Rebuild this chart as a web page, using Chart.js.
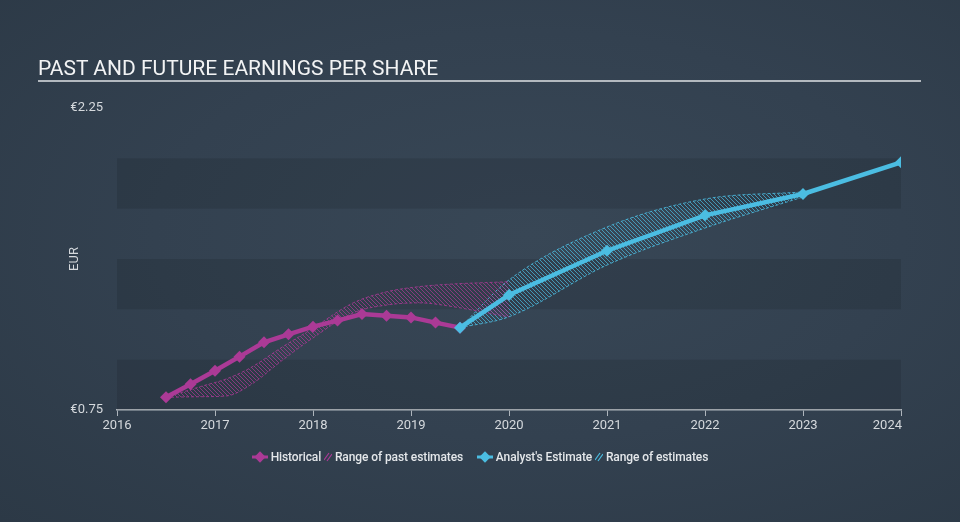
<!DOCTYPE html>
<html>
<head>
<meta charset="utf-8">
<script src="https://cdn.jsdelivr.net/npm/chart.js@4.4.0/dist/chart.umd.min.js"></script>
<style>
    html, body {
        margin: 0;
        padding: 0;
        width: 960px;
        height: 522px;
        overflow: hidden;
        font-family: Roboto, "Noto Sans", sans-serif;
        background: radial-gradient(ellipse at 55% 45%, #384756 0%, #334150 50%, #2c3946 100%);
    }
    #chart {
        position: absolute;
        left: 0;
        top: 0;
    }
    .title {
        position: absolute;
        left: 38px;
        top: 56px;
        font-size: 21px;
        color: #f2f3f4;
    }
    .title-rule {
        position: absolute;
        left: 38px;
        top: 80px;
        width: 883px;
        height: 2px;
        background: #b3b9bf;
    }
    .legend {
        position: absolute;
        top: 449px;
        left: 0;
        width: 960px;
        text-align: center;
        font-size: 12px;
        font-weight: 500;
        letter-spacing: -0.1px;
        color: #e4e7ea;
        white-space: nowrap;
    }
    .legend span {
        display: inline-block;
        vertical-align: middle;
    }
    .legend svg {
        vertical-align: middle;
    }
</style>
</head>
<body>
<canvas id="chart" width="960" height="522"></canvas>
<div class="title">PAST AND FUTURE EARNINGS PER SHARE</div>
<div class="title-rule"></div>
<div class="legend">
    <svg width="16" height="12"><line x1="0" y1="6" x2="16" y2="6" stroke="#ab3a96" stroke-width="3"/><rect x="4" y="2" width="8" height="8" fill="#ab3a96" transform="rotate(45 8 6)"/></svg>
    <span>Historical</span>
    <svg width="8" height="10"><line x1="0" y1="8" x2="5" y2="1" stroke="#ab3a96" stroke-width="1.2"/><line x1="3" y1="9" x2="8" y2="2" stroke="#ab3a96" stroke-width="1.2"/></svg>
    <span>Range of past estimates</span>
    <span style="width:8px"></span>
    <svg width="16" height="12"><line x1="0" y1="6" x2="16" y2="6" stroke="#4bbde2" stroke-width="3"/><rect x="4" y="2" width="8" height="8" fill="#4bbde2" transform="rotate(45 8 6)"/></svg>
    <span>Analyst's Estimate</span>
    <svg width="8" height="10"><line x1="0" y1="8" x2="5" y2="1" stroke="#4bbde2" stroke-width="1.2"/><line x1="3" y1="9" x2="8" y2="2" stroke="#4bbde2" stroke-width="1.2"/></svg>
    <span>Range of estimates</span>
</div>
<script>
// Historical EPS (quarterly, trailing)
const histDates = [2016.5, 2016.75, 2017.0, 2017.25, 2017.5, 2017.75, 2018.0, 2018.25, 2018.5, 2018.75, 2019.0, 2019.25, 2019.5];
const histEps = [0.813, 0.878, 0.945, 1.015, 1.086, 1.126, 1.164, 1.194, 1.227, 1.218, 1.210, 1.184, 1.159];

// Range of past estimates
const pastDates = [2016.5, 2016.85, 2017.12, 2017.36, 2017.69, 2017.97, 2018.41, 2018.76, 2019.09, 2019.43, 2019.78, 2020.0];
const pastHigh = [0.813, 0.866, 0.905, 0.959, 1.064, 1.147, 1.282, 1.338, 1.363, 1.376, 1.383, 1.387];
const pastLow = [0.813, 0.816, 0.820, 0.874, 0.998, 1.098, 1.232, 1.272, 1.282, 1.263, 1.232, 1.213];

// Analyst estimates
const futureYears = [2019.5, 2020, 2021, 2022, 2023, 2024];
const futureEps = [1.159, 1.321, 1.541, 1.717, 1.823, 1.980];

// Range of estimates
const rangeYears = [2019.5, 2020, 2021, 2022, 2023];
const futureHigh = [1.159, 1.396, 1.659, 1.798, 1.833];
const futureLow = [1.159, 1.213, 1.470, 1.654, 1.808];

// Axis
const yTicks = [0.75, 2.25];
const xMin = 2016;
const xMax = 2024;
const bandRanges = [[0.75, 1.0], [1.25, 1.5], [1.75, 2.0]];

const PINK = '#ab3a96';
const BLUE = '#4bbde2';
const TICK_COLOR = '#d5d9dd';

function toPoints(xs, ys) {
    return xs.map((x, i) => ({ x: x, y: ys[i] }));
}

function hatch(color) {
    const c = document.createElement('canvas');
    c.width = 4;
    c.height = 4;
    const g = c.getContext('2d');
    g.strokeStyle = color;
    g.lineWidth = 1;
    g.beginPath();
    g.moveTo(0, 0); g.lineTo(4, 4);
    g.moveTo(-1, 3); g.lineTo(1, 5);
    g.moveTo(3, -1); g.lineTo(5, 1);
    g.stroke();
    return g.createPattern(c, 'repeat');
}

// Darker horizontal bands behind the data
const bandsPlugin = {
    id: 'bands',
    beforeDatasetsDraw(chart) {
        const { ctx, chartArea, scales } = chart;
        ctx.save();
        ctx.fillStyle = 'rgba(0, 0, 0, 0.1)';
        bandRanges.forEach(b => {
            const top = scales.y.getPixelForValue(b[1]);
            const bottom = scales.y.getPixelForValue(b[0]);
            ctx.fillRect(chartArea.left, top, chartArea.right - chartArea.left, bottom - top);
        });
        ctx.restore();
    }
};

// Last x label sits right-aligned against its tick
const lastLabelPlugin = {
    id: 'lastLabel',
    afterDraw(chart) {
        const { ctx, scales } = chart;
        const x = scales.x.getPixelForValue(xMax);
        ctx.save();
        ctx.fillStyle = TICK_COLOR;
        ctx.font = '13px Roboto';
        ctx.textAlign = 'right';
        ctx.textBaseline = 'top';
        ctx.fillText(String(xMax), x + 1, scales.x.top + 9);
        ctx.restore();
    }
};

const rangeStyle = {
    borderWidth: 1,
    borderDash: [3, 2],
    pointRadius: 0,
    cubicInterpolationMode: 'monotone',
    order: 2
};

new Chart(document.getElementById('chart'), {
    type: 'line',
    data: {
        datasets: [
            Object.assign({
                label: 'past low',
                data: toPoints(pastDates, pastLow),
                borderColor: 'rgba(171, 58, 150, 0.8)',
                fill: false
            }, rangeStyle),
            Object.assign({
                label: 'Range of past estimates',
                data: toPoints(pastDates, pastHigh),
                borderColor: 'rgba(171, 58, 150, 0.8)',
                backgroundColor: hatch('rgba(171, 58, 150, 0.7)'),
                fill: { target: 0 }
            }, rangeStyle),
            Object.assign({
                label: 'future low',
                data: toPoints(rangeYears, futureLow),
                borderColor: 'rgba(75, 189, 226, 0.85)',
                fill: false
            }, rangeStyle),
            Object.assign({
                label: 'Range of estimates',
                data: toPoints(rangeYears, futureHigh),
                borderColor: 'rgba(75, 189, 226, 0.85)',
                backgroundColor: hatch('rgba(75, 189, 226, 0.7)'),
                fill: { target: 2 }
            }, rangeStyle),
            {
                label: 'Historical',
                data: toPoints(histDates, histEps),
                borderColor: PINK,
                backgroundColor: PINK,
                borderWidth: 4.5,
                pointStyle: 'rectRot',
                pointRadius: 6,
                pointBorderWidth: 0,
                tension: 0,
                fill: false,
                order: 1
            },
            {
                label: "Analyst's Estimate",
                data: toPoints(futureYears, futureEps),
                borderColor: BLUE,
                backgroundColor: BLUE,
                borderWidth: 4.5,
                pointStyle: 'rectRot',
                pointRadius: 6,
                pointBorderWidth: 0,
                tension: 0,
                fill: false,
                order: 0
            }
        ]
    },
    options: {
        responsive: false,
        animation: false,
        devicePixelRatio: 1,
        layout: {
            padding: { top: 108, right: 59, left: 0, bottom: 0 }
        },
        plugins: {
            legend: { display: false },
            tooltip: { enabled: false }
        },
        scales: {
            x: {
                type: 'linear',
                min: xMin,
                max: xMax,
                afterFit: scale => { scale.height = 112; },
                ticks: {
                    stepSize: 1,
                    color: TICK_COLOR,
                    font: { family: 'Roboto', size: 13 },
                    padding: 2,
                    callback: v => (v === xMax ? '' : String(v))
                },
                grid: {
                    drawOnChartArea: false,
                    drawTicks: true,
                    tickLength: 6,
                    color: '#aeb5bc',
                    lineWidth: 1
                },
                border: { color: '#aeb5bc', width: 1.5 }
            },
            y: {
                min: 0.75,
                max: 2.25,
                afterFit: scale => { scale.width = 117; },
                afterBuildTicks: scale => {
                    scale.ticks = yTicks.map(v => ({ value: v }));
                },
                ticks: {
                    color: TICK_COLOR,
                    font: { family: 'Roboto', size: 13 },
                    padding: 6,
                    callback: v => '€' + Number(v).toFixed(2)
                },
                grid: { display: false },
                border: { display: false },
                title: {
                    display: true,
                    text: 'EUR',
                    color: TICK_COLOR,
                    font: { family: 'Roboto', size: 13 },
                    padding: { top: 67, bottom: 0 }
                }
            }
        }
    },
    plugins: [bandsPlugin, lastLabelPlugin]
});
</script>
</body>
</html>
